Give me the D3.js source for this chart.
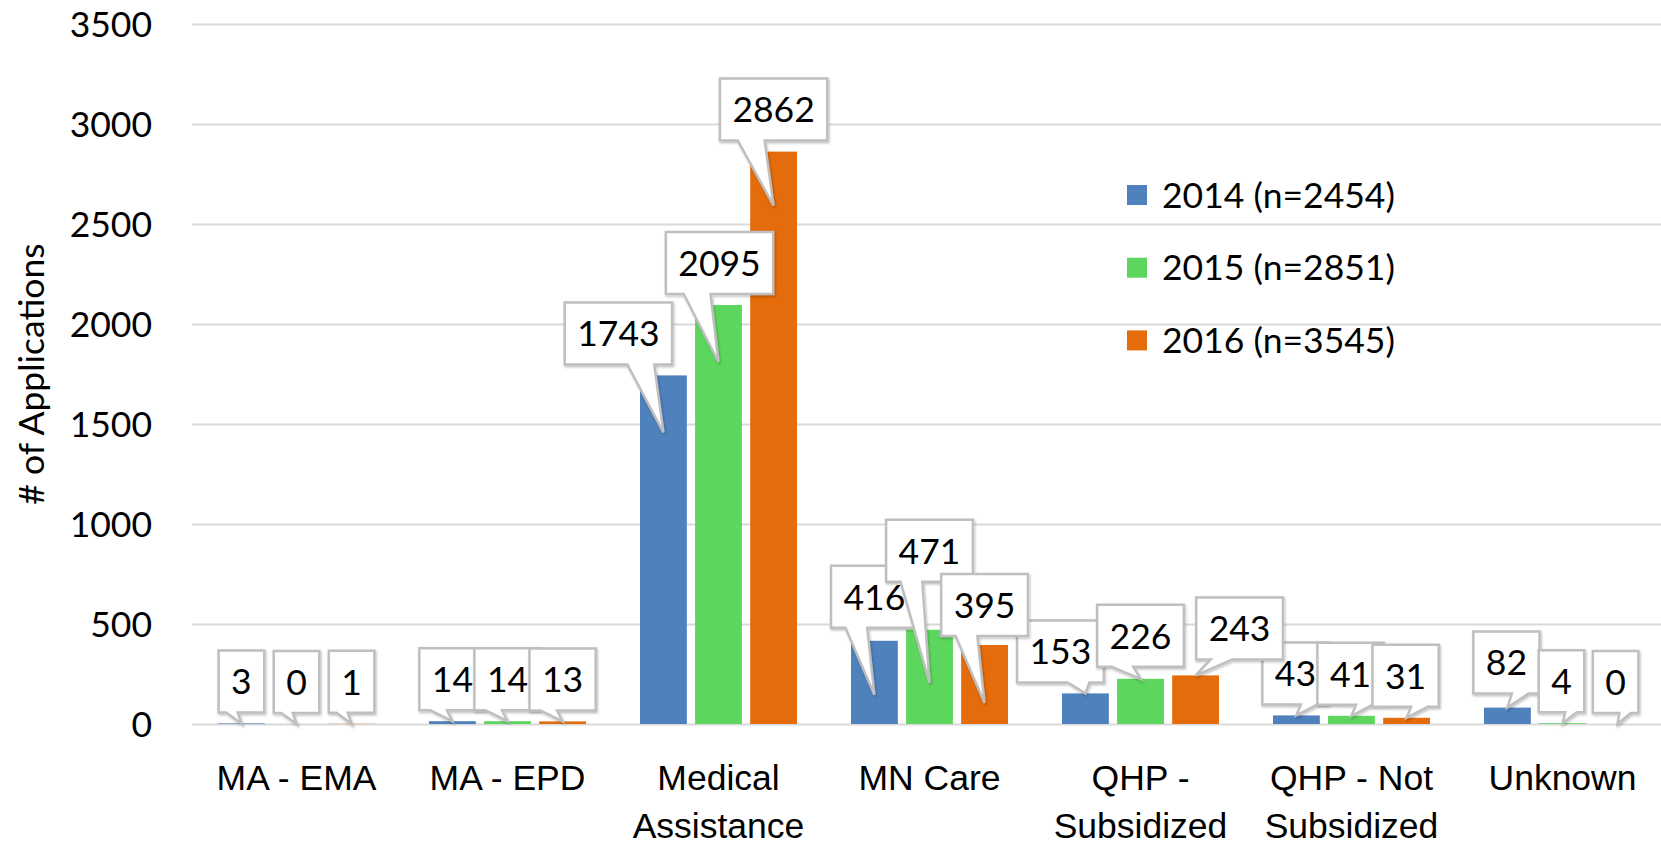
<!DOCTYPE html>
<html>
<head>
<meta charset="utf-8">
<script src="https://cdn.jsdelivr.net/npm/d3@7"></script>
<style>
  html, body { margin: 0; padding: 0; background: #fff; }
  svg { display: block; font-family: Lato, "Open Sans", sans-serif; }
</style>
</head>
<body>
<div id="chart"></div>
<script>
// chart values
var categories = ["MA - EMA", "MA - EPD", "Medical|Assistance", "MN Care", "QHP -|Subsidized", "QHP - Not|Subsidized", "Unknown"];
var seriesNames = ["2014 (n=2454)", "2015 (n=2851)", "2016 (n=3545)"];
var values2014 = [3, 14, 1743, 416, 153, 43, 82];
var values2015 = [0, 14, 2095, 471, 226, 41, 4];
var values2016 = [1, 13, 2862, 395, 243, 31, 0];
var yTicks = [0, 500, 1000, 1500, 2000, 2500, 3000, 3500];

// hand placed callouts in the original: [shift x, extra lift, tip depth into bar]
var nudge2014 = [[0, 0, 0], [0, 0, 0], [-45, 0, 57], [0, 2, 54], [-25, 0, 0], [-1, 0, 0], [-1, 3, 0]];
var nudge2015 = [[0, 0, 0], [0, 0, 0], [1, 0, 57], [0, 37, 53], [0, 1, 0], [-1, 0, 0], [-1, 0, 0]];
var nudge2016 = [[0, 0, 0], [0, 0, 0], [0, 0, 54], [0, -2, 58], [44, 5, 0], [-1, 0, 0], [-2, 0, 0]];

var colors = ["#4F81BD", "#5CD65C", "#E46C0A"];
var width = 1661, height = 845;
var fontSize = 35.5;

var allValues = [values2014, values2015, values2016];
var allNudges = [nudge2014, nudge2015, nudge2016];

var svg = d3.select("#chart").append("svg")
  .attr("width", width)
  .attr("height", height);

var defs = svg.append("defs");
defs.append("filter").attr("id", "shadow")
  .attr("x", "-20%").attr("y", "-20%").attr("width", "150%").attr("height", "150%")
  .append("feDropShadow")
  .attr("dx", 1).attr("dy", 1.5).attr("stdDeviation", 1)
  .attr("flood-color", "#000").attr("flood-opacity", 0.25);

var y = d3.scaleLinear().domain([0, 3500]).range([724, 24]);
var x0 = d3.scaleBand().domain(categories).range([191, 1668])
  .paddingInner(0.256).paddingOuter(0.128);
var x1 = d3.scaleBand().domain(seriesNames).range([0, x0.bandwidth()]).paddingInner(0.15);

// gridlines + tick labels
var yAxis = svg.append("g")
  .attr("transform", "translate(192,0)")
  .call(d3.axisLeft(y).tickValues(yTicks).tickFormat(d3.format("d"))
    .tickSize(-(width - 192)).tickPadding(40));
yAxis.select(".domain").remove();
yAxis.selectAll(".tick line").attr("stroke", "#D9D9D9").attr("stroke-width", 2);
yAxis.selectAll(".tick text")
  .attr("font-family", "Lato, sans-serif")
  .attr("font-size", fontSize)
  .attr("fill", "#000")
  .attr("dy", null)
  .attr("y", fontSize * 0.358);

// y title
svg.append("text")
  .attr("transform", "translate(44," + (y(0) + y(3500)) / 2 + ") rotate(-90)")
  .attr("text-anchor", "middle")
  .attr("font-size", fontSize)
  .attr("fill", "#000")
  .text("# of Applications");

// category labels
var xAxis = svg.append("g")
  .attr("transform", "translate(0," + y(0) + ")")
  .call(d3.axisBottom(x0).tickSize(0).tickFormat(""));
xAxis.select(".domain").remove();
xAxis.selectAll(".tick").each(function (d) {
  var t = d3.select(this).append("text")
    .attr("text-anchor", "middle")
    .attr("font-size", fontSize)
    .attr("fill", "#000");
  d.split("|").forEach(function (line, i) {
    t.append("tspan").attr("x", 0).attr("y", 66 + i * 48).text(line);
  });
});

// bars
var groups = svg.append("g").selectAll("g")
  .data(categories)
  .join("g")
  .attr("transform", function (d) { return "translate(" + x0(d) + ",0)"; });

groups.selectAll("rect")
  .data(function (d, i) {
    return seriesNames.map(function (s, k) { return { series: s, k: k, value: allValues[k][i] }; });
  })
  .join("rect")
  .attr("x", function (d) { return x1(d.series); })
  .attr("width", x1.bandwidth())
  .attr("y", function (d) { return y(d.value); })
  .attr("height", function (d) { return y(0) - y(d.value); })
  .attr("fill", function (d) { return colors[d.k]; });

// callout outline like the office wedgeRectCallout
function calloutPath(bx, by, w, h, tx, ty) {
  var cx = bx + w / 2, cy = by + h / 2;
  var dx = tx - cx, dy = ty - cy;
  var inside = tx >= bx && tx <= bx + w && ty >= by && ty <= by + h;
  var vertical = Math.abs(dy) > Math.abs(dx * h / w);
  var side = inside ? "none" : vertical ? (dy > 0 ? "bottom" : "top") : (dx > 0 ? "right" : "left");
  var xa = bx + w * (dx > 0 ? 7 : 2) / 12, xb = bx + w * (dx > 0 ? 10 : 5) / 12;
  var ya = by + h * (dy > 0 ? 7 : 2) / 12, yb = by + h * (dy > 0 ? 10 : 5) / 12;
  var p = d3.path();
  p.moveTo(bx, by);
  if (side == "top") { p.lineTo(xa, by); p.lineTo(tx, ty); p.lineTo(xb, by); }
  p.lineTo(bx + w, by);
  if (side == "right") { p.lineTo(bx + w, ya); p.lineTo(tx, ty); p.lineTo(bx + w, yb); }
  p.lineTo(bx + w, by + h);
  if (side == "bottom") { p.lineTo(xb, by + h); p.lineTo(tx, ty); p.lineTo(xa, by + h); }
  p.lineTo(bx, by + h);
  if (side == "left") { p.lineTo(bx, yb); p.lineTo(tx, ty); p.lineTo(bx, ya); }
  p.closePath();
  return p.toString();
}

// data labels, drawn series by series so later ones sit on top
var labelLayer = svg.append("g");
var boxH = 62, gap = 11;
seriesNames.forEach(function (s, k) {
  categories.forEach(function (c, i) {
    var v = allValues[k][i];
    var n = allNudges[k][i];
    var barX = x0(c) + x1(s) + x1.bandwidth() / 2;
    var barTop = y(v);
    var g = labelLayer.append("g");
    var shape = g.append("path");
    var txt = g.append("text")
      .attr("text-anchor", "middle")
      .attr("font-size", fontSize)
      .attr("fill", "#000")
      .text(v);
    var w = txt.node().getComputedTextLength() + 25;
    var cx = barX + n[0];
    var bottom = barTop - gap - n[1];
    var top = bottom - boxH;
    txt.attr("x", cx).attr("y", top + boxH / 2 + fontSize * 0.358);
    shape.attr("d", calloutPath(cx - w / 2, top, w, boxH, barX, barTop + n[2]))
      .attr("fill", "#fff")
      .attr("stroke", "#BFBFBF")
      .attr("stroke-width", 2.5)
      .attr("stroke-linejoin", "miter")
      .attr("filter", "url(#shadow)");
  });
});

// legend
var legend = svg.append("g").attr("transform", "translate(1127,195)");
var item = legend.selectAll("g")
  .data(seriesNames)
  .join("g")
  .attr("transform", function (d, i) { return "translate(0," + i * 72.7 + ")"; });
item.append("rect")
  .attr("x", 0).attr("y", -10)
  .attr("width", 20).attr("height", 20)
  .attr("fill", function (d, i) { return colors[i]; });
item.append("text")
  .attr("x", 35)
  .attr("y", fontSize * 0.358)
  .attr("font-size", fontSize)
  .attr("fill", "#000")
  .text(function (d) { return d; });
</script>
</body>
</html>
